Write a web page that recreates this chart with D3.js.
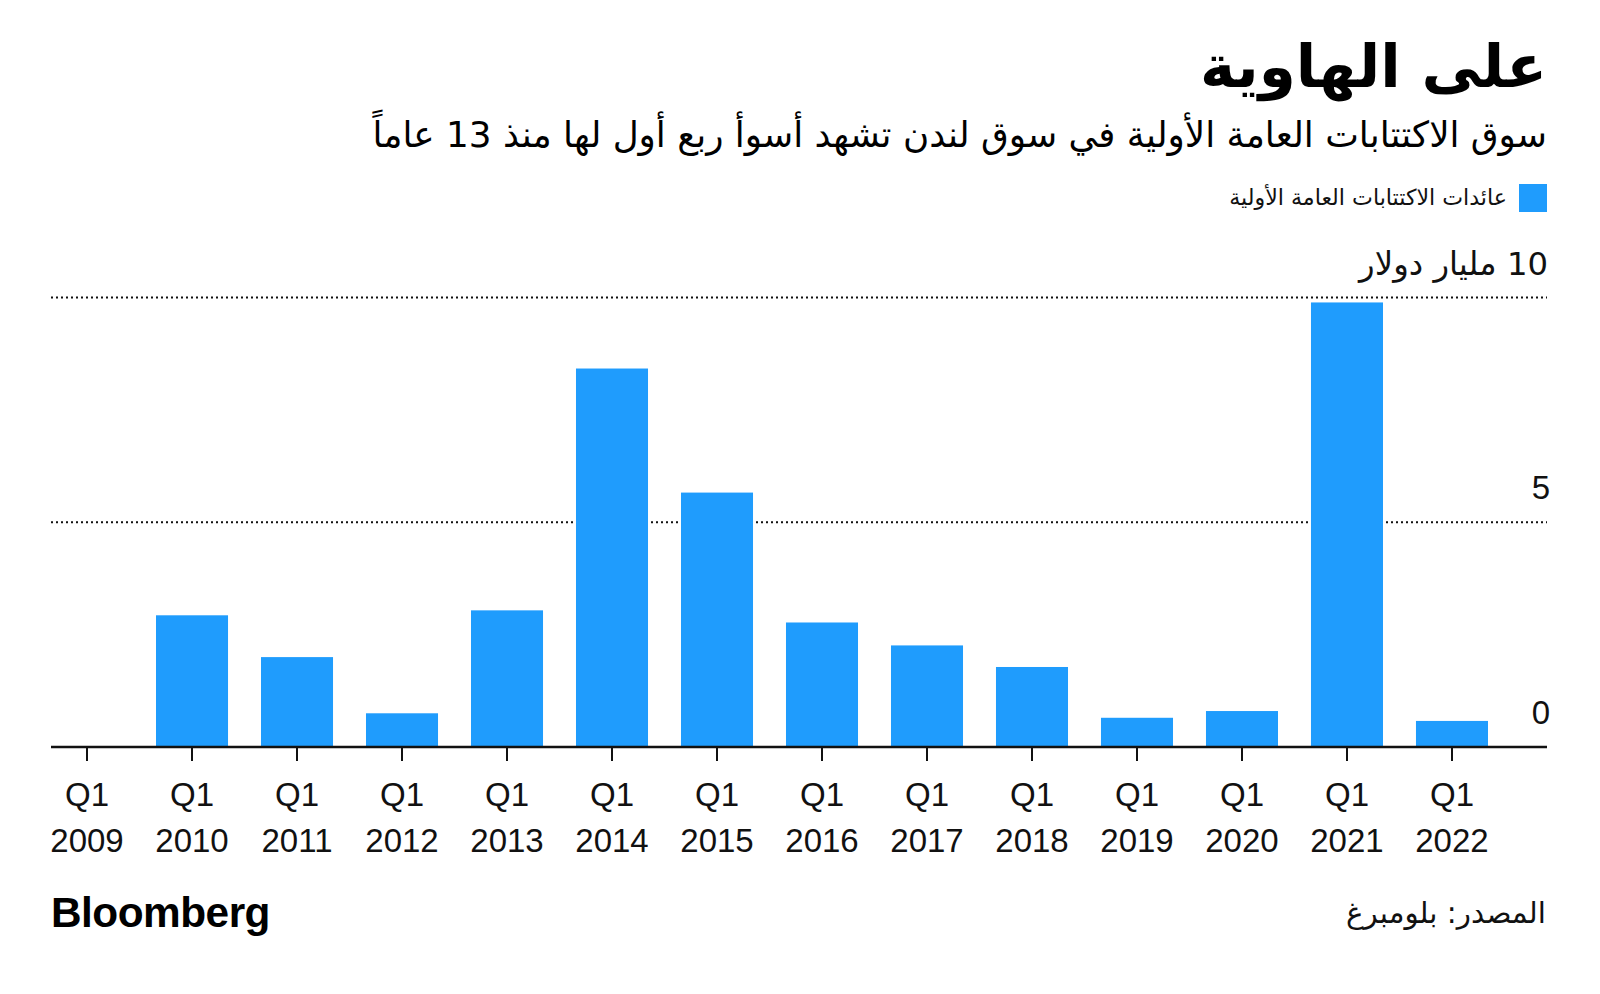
<!DOCTYPE html>
<html>
<head>
<meta charset="utf-8">
<script src="https://cdn.jsdelivr.net/npm/d3@7"></script>
<style>
  html, body { margin: 0; padding: 0; background: #fff; }
  svg { display: block; }
</style>
</head>
<body>
<svg id="chart" width="1600" height="994"></svg>
<script>
// ---- data ----
const categories = ["2009","2010","2011","2012","2013","2014","2015","2016","2017","2018","2019","2020","2021","2022"];
const quarterLabels = ["Q1","Q1","Q1","Q1","Q1","Q1","Q1","Q1","Q1","Q1","Q1","Q1","Q1","Q1"];
const ipoProceeds = [0, 2.93, 2.00, 0.75, 3.04, 8.42, 5.66, 2.77, 2.26, 1.78, 0.65, 0.80, 9.89, 0.58];
const yTickValues = [0, 5, 10];
const yTickLabels = ["0", "5", "10 مليار دولار"];
const titleText = "على الهاوية";
const subtitleText = "سوق الاكتتابات العامة الأولية في سوق لندن تشهد أسوأ ربع أول لها منذ 13 عاماً";
const legendText = "عائدات الاكتتابات العامة الأولية";
const sourceText = "المصدر: بلومبرغ";
const logoText = "Bloomberg";

const BLUE = "#1f9cfd";
const AR_FONT = "'DejaVu Sans', 'Noto Sans', sans-serif";
const LAT_FONT = "'Liberation Sans', Arial, sans-serif";

const svg = d3.select("#chart");

const x = d3.scaleBand().domain(categories).range([51, 1488]).paddingInner(0.314).paddingOuter(0);
const y = d3.scaleLinear().domain([0, 10]).range([747, 297.5]);
const axisLeft = 51, axisRight = 1547;

// fit helper: scale font-size so rendered width matches target
function fitWidth(sel, target) {
  const node = sel.node();
  const w = node.getComputedTextLength();
  const fs = parseFloat(sel.attr("font-size"));
  if (w > 0) sel.attr("font-size", fs * target / w);
}

// gridlines
svg.append("g").selectAll("line.grid")
  .data(yTickValues.filter(v => v > 0))
  .join("line")
  .attr("x1", axisLeft).attr("x2", axisRight)
  .attr("y1", d => y(d)).attr("y2", d => y(d))
  .attr("stroke", "#111").attr("stroke-width", 2)
  .attr("stroke-dasharray", "2,3");

// bars
svg.append("g").selectAll("rect")
  .data(categories.map((c, i) => ({c, v: ipoProceeds[i]})))
  .join("rect")
  .attr("x", d => x(d.c))
  .attr("width", x.bandwidth())
  .attr("y", d => y(d.v))
  .attr("height", d => y(0) - y(d.v))
  .attr("fill", BLUE);

// x axis baseline
svg.append("line")
  .attr("x1", axisLeft).attr("x2", axisRight)
  .attr("y1", y(0)).attr("y2", y(0))
  .attr("stroke", "#111").attr("stroke-width", 2.5);

// x axis ticks and labels via d3 axis
const xAxisG = svg.append("g").attr("transform", `translate(0,${y(0)})`)
  .call(d3.axisBottom(x).tickSize(14).tickPadding(0).tickFormat(""));
xAxisG.select(".domain").remove();
xAxisG.selectAll(".tick line").attr("stroke", "#111").attr("stroke-width", 2);

const labG = svg.append("g");
categories.forEach((c, i) => {
  const cx = x(c) + x.bandwidth() / 2;
  labG.append("text").attr("x", cx).attr("y", 806)
    .attr("text-anchor", "middle").attr("font-family", LAT_FONT).attr("font-size", 33)
    .attr("fill", "#111").text(quarterLabels[i]);
  labG.append("text").attr("x", cx).attr("y", 852)
    .attr("text-anchor", "middle").attr("font-family", LAT_FONT).attr("font-size", 33)
    .attr("fill", "#111").text(c);
});

// y labels
yTickValues.forEach((v, i) => {
  const t = svg.append("text")
    .attr("x", i === 2 ? 1548 : 1550)
    .attr("y", y(v) - 23)
    .attr("direction", "rtl")
    .attr("text-anchor", "start")
    .attr("font-family", i === 2 ? AR_FONT : LAT_FONT)
    .attr("font-size", 33)
    .attr("fill", "#111")
    .text(yTickLabels[i]);
  if (i === 2) fitWidth(t, 189);
});

// title
const title = svg.append("text")
  .attr("x", 1547).attr("y", 87)
  .attr("direction", "rtl").attr("text-anchor", "start")
  .attr("font-family", AR_FONT).attr("font-weight", "bold").attr("font-size", 60)
  .attr("fill", "#000").text(titleText);
fitWidth(title, 347);

// subtitle
const sub = svg.append("text")
  .attr("x", 1547).attr("y", 147)
  .attr("direction", "rtl").attr("text-anchor", "start")
  .attr("font-family", AR_FONT).attr("font-size", 32)
  .attr("fill", "#000").text(subtitleText);
fitWidth(sub, 1175);

// legend
svg.append("rect").attr("x", 1519).attr("y", 184).attr("width", 28).attr("height", 28).attr("fill", BLUE);
const leg = svg.append("text")
  .attr("x", 1507).attr("y", 205)
  .attr("direction", "rtl").attr("text-anchor", "start")
  .attr("font-family", AR_FONT).attr("font-size", 20)
  .attr("fill", "#111").text(legendText);
fitWidth(leg, 278);

// source
const src = svg.append("text")
  .attr("x", 1546).attr("y", 923)
  .attr("direction", "rtl").attr("text-anchor", "start")
  .attr("font-family", AR_FONT).attr("font-size", 30)
  .attr("fill", "#111").text(sourceText);
fitWidth(src, 200);

// logo
const logo = svg.append("text")
  .attr("x", 51).attr("y", 927)
  .attr("font-family", LAT_FONT).attr("font-weight", "bold").attr("font-size", 42)
  .attr("letter-spacing", -0.5)
  .attr("fill", "#000").text(logoText);
fitWidth(logo, 219);
</script>
</body>
</html>
